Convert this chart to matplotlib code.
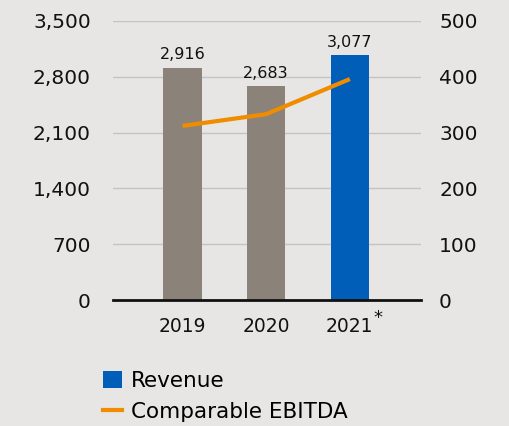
import matplotlib
matplotlib.use("Agg")
import matplotlib.pyplot as plt
from matplotlib.patches import Patch
from matplotlib.lines import Line2D

years   = ["2019", "2020", "2021"]
revenue = [2916, 2683, 3077]
ebitda  = [312, 333, 396]
rev_ticks = [0, 700, 1400, 2100, 2800, 3500]
ebit_ticks = [0, 100, 200, 300, 400, 500]

BG     = "#e7e6e4"
GREY   = "#8b8279"
BLUE   = "#005eb8"
ORANGE = "#f08c00"
GRID   = "#c4c3c1"

plt.rcParams["font.family"] = ["DejaVu Sans"]

fig = plt.figure(figsize=(5.09, 4.26), dpi=100)
fig.patch.set_facecolor(BG)
ax = fig.add_axes([113 / 509, 1 - 300 / 426, 308 / 509, 279 / 426])
ax.set_facecolor(BG)

x = list(range(len(years)))
colors = [GREY, GREY, BLUE]
ax.bar(x, revenue, width=0.46, color=colors, zorder=3)
for xi, v in zip(x, revenue):
    ax.text(xi, v + 65, f"{v:,}", ha="center", va="bottom", fontsize=11.5, color="#111")

ax.set_ylim(0, 3500)
ax.set_xlim(-0.83, 2.85)
ax.set_yticks(rev_ticks)
ax.set_yticklabels([f"{t:,}" for t in rev_ticks])
ax.grid(axis="y", color=GRID, lw=1, zorder=0)
ax.set_xticks(x)
ax.set_xticklabels(years)
ax.tick_params(axis="y", length=0, labelsize=14.5, colors="#111", pad=16)
ax.tick_params(axis="x", length=0, labelsize=13.5, colors="#111", pad=12)
for s in ["top", "right", "left"]:
    ax.spines[s].set_visible(False)
ax.spines["bottom"].set_color("#111")
ax.spines["bottom"].set_linewidth(2)
ax.spines["bottom"].set_zorder(5)
ax.text(2.33, -230, "*", ha="center", va="center", fontsize=13, color="#111")

ax2 = ax.twinx()
ax2.plot(x, ebitda, color=ORANGE, lw=3, zorder=4, solid_capstyle="butt")
ax2.set_ylim(0, 500)
ax2.set_yticks(ebit_ticks)
ax2.tick_params(axis="y", length=0, labelsize=14.5, colors="#111", pad=13)
for s in ["top", "right", "left", "bottom"]:
    ax2.spines[s].set_visible(False)

handles = [Patch(facecolor=BLUE, edgecolor="none"),
           Line2D([0], [0], color=ORANGE, lw=3)]
fig.legend(handles, ["Revenue", "Comparable EBITDA"],
           loc="upper left", bbox_to_anchor=(94 / 509, 1 - 362 / 426),
           frameon=False, fontsize=15.5, handlelength=0.88, handleheight=0.88,
           handletextpad=0.45, labelspacing=0.5, borderaxespad=0)

fig.savefig("out.png", dpi=100, facecolor=BG)
